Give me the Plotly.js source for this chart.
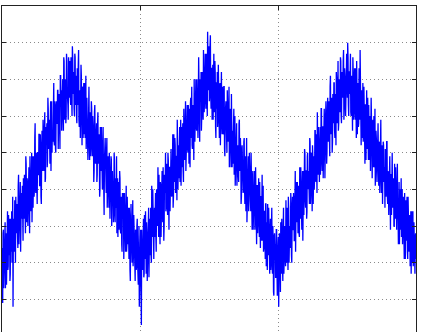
<!DOCTYPE html>
<html>
<head>
<meta charset="utf-8">
<script src="https://cdn.plot.ly/plotly-3.0.1.min.js"></script>
<style>
html,body{margin:0;padding:0;overflow:hidden;background:#fff;}
#chart{width:422px;height:345px;}
</style>
</head>
<body>
<div id="chart"></div>
<script>
// Signal, six half-periods; "main" samples every 0.005,
// "mid" samples fall halfway between them (final step 0.0025).
var rise1 = [2.4,0.9,2.9,1.8,2.3,1.3,2.8,2.2,3.4,1.9,
2.2,3.2,1.7,2.9,3.4,2.3,0.8,3.2,2.9,2.3,
3.8,2.8,3.5,2.4,4.4,2.8,3.4,2.3,3.9,3.4,
2.9,4.3,3.2,4.0,2.8,4.7,3.1,4.1,3.7,4.6,
2.8,4.5,3.6,5.0,4.3,3.5,4.9,4.0,5.8,3.9,
4.6,3.6,5.0,4.4,5.5,4.1,5.1,3.6,5.6,4.8,
5.5,4.6,6.1,4.3,5.4,5.8,4.8,6.2,5.1,4.7,
5.9,4.5,6.4,5.6,5.3,6.9,5.2,6.1,5.0,6.4,
5.8,6.7,5.6,6.2,5.1,7.1,6.7,6.0,7.0,5.6,
7.5,6.1,6.8,6.0,7.5,6.5,5.9,7.4,7.2,6.5];
var mid1 = [1.5,2.8,1.3,2.6,3.1,2.0,1.4,2.9,1.8,3.3,
2.7,1.5,3.2,2.3,2.0,3.8,3.0,2.3,3.7,2.0,
3.4,3.6,2.7,4.1,2.5,3.3,4.2,2.7,3.2,4.1,
2.6,3.8,4.4,3.1,4.9,3.4,4.3,3.0,4.5,3.8,
4.9,3.4,4.3,3.1,4.9,4.6,3.8,5.4,4.1,5.0,
3.7,5.0,4.4,5.5,4.1,5.5,3.8,5.1,4.5,5.9,
4.5,5.7,4.2,5.7,5.3,4.6,6.5,5.2,5.9,4.7,
6.4,5.8,5.0,5.4,6.7,5.3,6.4,5.1,6.3,5.8,
6.7,5.1,6.6,5.8,7.1,6.4,5.6,7.0,6.1,7.6,
5.9,7.0,5.8,7.7,6.5,6.3,7.6,6.5,7.5,6.3];
var fall1 = [7.6,6.5,7.9,6.6,7.2,6.0,7.6,6.8,6.0,7.3,
6.3,7.8,5.7,6.7,5.9,7.1,5.2,6.7,6.3,5.5,
6.9,5.7,5.1,6.5,5.9,5.3,6.8,4.8,6.0,5.4,
6.2,4.9,5.7,4.2,6.1,5.3,4.8,5.8,4.4,6.1,
4.7,5.2,4.0,5.4,5.7,4.3,5.0,4.6,3.3,5.3,
4.9,3.9,5.4,4.2,4.9,3.5,4.4,3.8,4.9,3.0,
4.5,4.1,3.4,4.8,3.1,4.1,4.9,3.3,2.7,4.2,
3.3,4.3,2.8,3.8,2.3,3.5,3.9,2.9,3.6,2.3,
4.1,2.5,2.9,3.5,2.1,3.1,1.5,3.6,2.5,3.0,
1.9,3.3,2.1,1.5,2.8,1.9,3.2,1.5,2.3,0.8];
var mid2 = [7.3,6.0,7.6,7.0,6.2,7.7,6.3,7.1,5.8,6.9,
7.4,5.9,6.6,5.4,7.4,5.9,6.8,5.4,6.9,6.0,
5.4,7.1,5.5,6.1,4.8,6.4,5.5,6.1,4.9,6.4,
5.1,6.0,5.5,4.5,6.3,4.7,5.5,4.2,5.8,4.8,
5.5,3.8,5.7,4.5,5.2,4.0,5.7,4.0,4.8,5.4,
4.0,5.0,3.5,4.6,4.1,5.0,3.2,4.5,4.8,3.4,
4.1,3.1,5.0,3.4,4.3,3.5,2.8,4.3,3.9,2.9,
4.5,2.9,3.6,2.5,3.9,3.6,2.1,3.9,2.8,3.5,
2.3,3.8,2.5,2.6,3.5,1.8,3.2,2.7,2.0,3.7,
2.2,2.8,1.6,2.9,1.8,3.0,2.0,1.4,3.0,1.6];
var rise2 = [1.3,2.9,0.3,2.6,1.9,3.2,1.7,2.6,3.4,1.7,
2.8,2.2,3.3,1.6,3.2,2.9,2.2,4.1,2.7,3.6,
2.1,3.5,3.1,2.7,4.0,3.0,4.6,2.7,3.6,2.5,
4.1,3.4,4.5,3.1,4.0,3.0,4.3,5.0,3.5,4.1,
3.3,4.8,2.9,4.6,4.2,5.1,3.8,4.7,3.5,5.5,
4.2,5.2,4.0,4.9,5.9,4.0,5.2,4.8,4.2,5.9,
5.2,4.6,5.8,4.2,5.7,5.1,6.4,4.8,5.7,5.1,
6.3,4.7,5.7,6.3,5.4,6.8,5.1,6.3,4.8,6.5,
5.9,7.0,5.6,6.4,5.4,7.6,5.9,7.0,6.4,5.6,
7.2,6.3,7.8,6.1,7.1,6.6,7.7,6.1,8.3,6.7];
var mid3 = [2.5,1.2,2.9,1.8,2.4,1.6,3.3,2.1,1.8,3.1,
1.5,3.0,3.5,2.5,2.2,3.5,2.0,3.2,4.0,2.4,
3.2,2.7,3.9,2.3,3.7,3.3,2.7,4.4,3.1,4.2,
2.7,4.0,3.4,4.6,2.6,4.4,3.9,3.4,4.7,3.3,
5.0,3.8,4.6,3.4,4.9,3.9,4.5,5.5,3.8,4.5,
5.4,3.9,4.9,3.7,5.3,5.2,4.3,5.7,4.7,4.1,
5.7,5.3,4.5,6.2,4.8,5.8,4.5,5.7,6.3,5.0,
5.3,6.2,4.6,6.5,5.8,5.2,6.2,5.6,7.0,5.3,
6.5,5.7,7.0,5.4,6.4,6.9,5.3,6.7,7.2,6.0,
6.6,5.9,7.2,6.4,7.7,6.2,7.2,6.0,7.6,7.2];
var fall2 = [7.9,6.6,8.2,6.2,7.3,6.9,5.9,7.7,6.3,7.2,
5.4,6.9,7.2,5.9,6.5,5.4,6.9,6.0,7.2,5.5,
6.3,5.6,6.8,4.9,6.3,5.8,5.0,6.3,5.3,6.8,
5.0,5.7,4.6,6.1,5.6,4.7,6.2,5.0,4.1,5.6,
5.8,4.6,5.0,4.2,5.9,4.5,5.1,3.8,5.2,4.5,
4.0,5.4,3.6,4.7,4.9,3.1,4.4,4.9,3.7,4.6,
3.4,5.0,3.7,4.3,2.9,3.9,4.5,3.2,3.9,2.5,
4.1,3.2,4.3,2.7,3.5,3.8,2.6,4.4,2.7,2.3,
3.4,2.9,3.6,1.9,3.1,3.6,2.2,2.8,1.7,3.2,
2.2,3.5,1.7,2.6,1.1,2.8,2.5,1.6,2.9,1.1];
var mid4 = [6.4,7.9,6.6,7.3,5.9,7.4,6.9,6.1,7.5,5.7,
6.9,6.2,5.7,7.4,5.9,6.8,5.2,6.4,5.8,6.8,
5.5,6.8,5.1,6.0,6.4,5.1,6.7,5.4,6.0,4.6,
6.2,5.0,6.6,4.6,5.3,5.7,4.4,6.0,4.8,5.6,
4.1,5.2,4.4,5.8,4.6,5.4,3.6,5.0,4.7,3.9,
5.3,4.1,4.9,3.4,5.4,3.7,4.4,3.4,5.0,4.3,
3.4,4.4,2.9,4.5,3.6,4.1,2.9,4.6,3.2,4.1,
2.8,3.6,3.1,4.2,2.4,3.8,3.5,2.6,4.1,2.4,
3.4,2.1,3.6,2.7,1.8,3.2,3.5,2.2,2.9,1.8,
3.4,1.9,3.0,1.2,2.7,2.4,1.6,2.9,1.8,1.2];
var rise3 = [2.4,0.8,2.8,1.9,3.1,1.7,2.5,1.5,3.5,2.3,
3.0,1.9,2.9,3.5,2.2,3.8,2.0,3.0,2.5,3.6,
2.0,3.8,2.9,3.6,2.6,4.5,3.0,3.4,4.2,2.8,
4.0,2.7,3.9,4.6,3.3,4.0,2.6,4.5,3.8,5.0,
3.5,4.5,3.4,5.0,4.3,4.0,5.4,3.6,4.9,4.3,
5.2,3.6,4.9,4.3,5.6,4.2,5.0,6.1,4.4,5.0,
4.2,5.7,4.8,6.2,4.5,5.7,5.2,6.2,4.3,6.0,
5.7,5.0,6.5,5.3,6.0,4.9,7.1,5.7,6.5,5.3,
6.1,6.9,5.6,6.6,5.2,7.0,6.0,7.5,5.8,6.7,
6.1,7.5,5.8,7.2,6.7,7.8,6.2,7.2,6.0,7.6];
var mid5 = [2.7,1.6,2.4,1.2,2.8,3.2,1.9,2.9,1.7,2.7,
2.2,3.7,2.0,3.1,1.8,3.5,2.9,2.4,3.9,2.2,
3.3,2.9,3.9,2.6,3.7,2.3,4.2,3.1,3.6,4.1,
2.8,4.6,3.2,3.7,2.9,4.5,4.2,3.3,5.1,3.7,
4.5,3.2,4.9,4.0,4.5,3.6,5.3,3.9,5.0,3.4,
4.9,4.8,4.0,5.6,4.3,5.5,3.9,5.2,5.7,4.5,
5.1,4.4,6.2,4.9,5.7,4.3,5.9,5.6,5.0,6.4,
4.7,6.1,5.5,6.4,5.1,6.8,5.5,6.3,5.0,6.6,
5.8,6.9,5.4,6.5,7.2,5.8,6.5,5.6,7.0,6.1,
7.6,6.0,6.9,6.5,7.5,5.9,7.3,6.9,6.4,7.7];
var fall3 = [7.5,8.0,6.3,7.2,6.6,7.7,6.0,7.1,5.6,7.2,
6.4,7.3,5.9,6.6,7.5,5.5,6.5,5.8,6.9,7.8,
6.6,6.0,5.4,6.9,5.6,6.2,4.7,6.3,5.9,5.1,
6.5,4.8,5.6,6.0,4.5,6.5,5.1,5.6,4.6,6.0,
4.7,4.1,5.6,5.2,4.6,5.8,4.1,5.2,4.6,5.9,
3.9,4.9,4.1,5.2,4.5,3.5,4.9,4.1,5.3,3.6,
4.4,3.7,4.9,2.9,4.4,4.5,3.6,4.0,3.0,4.7,
3.2,4.0,2.9,4.7,3.3,3.9,2.5,4.0,3.3,2.7,
4.0,2.9,3.6,2.1,3.3,3.7,2.6,3.8,2.1,3.1,
2.3,3.3,2.5,1.7,3.4,2.6,1.9,3.1,2.1,2.7,
2.1];
var mid6 = [6.5,7.6,6.0,7.2,7.6,6.1,6.9,6.4,7.6,5.9,
7.0,6.1,7.3,5.4,6.6,6.9,5.7,7.3,5.9,6.5,
5.2,6.7,6.0,5.3,6.8,5.5,6.3,4.8,6.7,5.2,
5.8,6.3,4.8,5.7,5.2,5.9,4.3,5.9,5.6,4.6,
6.2,4.5,5.3,4.2,5.8,4.8,5.3,3.9,5.4,4.3,
5.2,3.6,5.3,4.2,4.6,5.1,3.8,5.3,3.8,4.5,
3.3,4.7,3.9,4.4,3.3,5.0,3.5,4.3,3.0,3.9,
4.6,3.0,3.9,3.3,2.5,4.2,3.8,2.9,4.3,3.1,
2.5,3.8,2.7,3.9,2.1,3.2,3.4,2.3,3.8,2.5,
3.2,1.9,3.4,2.9,2.0,3.4,2.1,2.6,1.7,2.8];

var mains = [rise1, fall1, rise2, fall2, rise3, fall3];
var mids  = [mid1, mid2, mid3, mid4, mid5, mid6];
var signal = [];
for (var s = 0; s < mains.length; s++) {
  for (var k = 0; k < mains[s].length; k++) {
    signal.push(mains[s][k]);
    if (k < mids[s].length) signal.push(mids[s][k]);
  }
}

var trace = {
  type: 'scatter',
  mode: 'lines',
  y: signal,
  x0: 0,
  dx: 0.0025,
  line: {color: '#0000ff', width: 1.3},
  hoverinfo: 'skip'
};

var axisCommon = {
  showgrid: true,
  gridcolor: '#8a8a8a',
  gridwidth: 1,
  griddash: '1px,3px',
  zeroline: false,
  showline: true,
  linecolor: '#222',
  linewidth: 1,
  mirror: 'ticks',
  ticks: 'inside',
  ticklen: 4,
  tickcolor: '#222',
  tickwidth: 1,
  showticklabels: false,
  dtick: 1,
  tick0: 0
};

var layout = {
  width: 422,
  height: 345,
  margin: {l: 2, r: 6, t: 6, b: 9, pad: 0},
  paper_bgcolor: '#ffffff',
  plot_bgcolor: '#ffffff',
  showlegend: false,
  xaxis: Object.assign({}, axisCommon, {range: [0, 3]}),
  yaxis: Object.assign({}, axisCommon, {range: [0, 9]})
};

Plotly.newPlot('chart', [trace], layout, {staticPlot: true, displayModeBar: false});
</script>
</body>
</html>
